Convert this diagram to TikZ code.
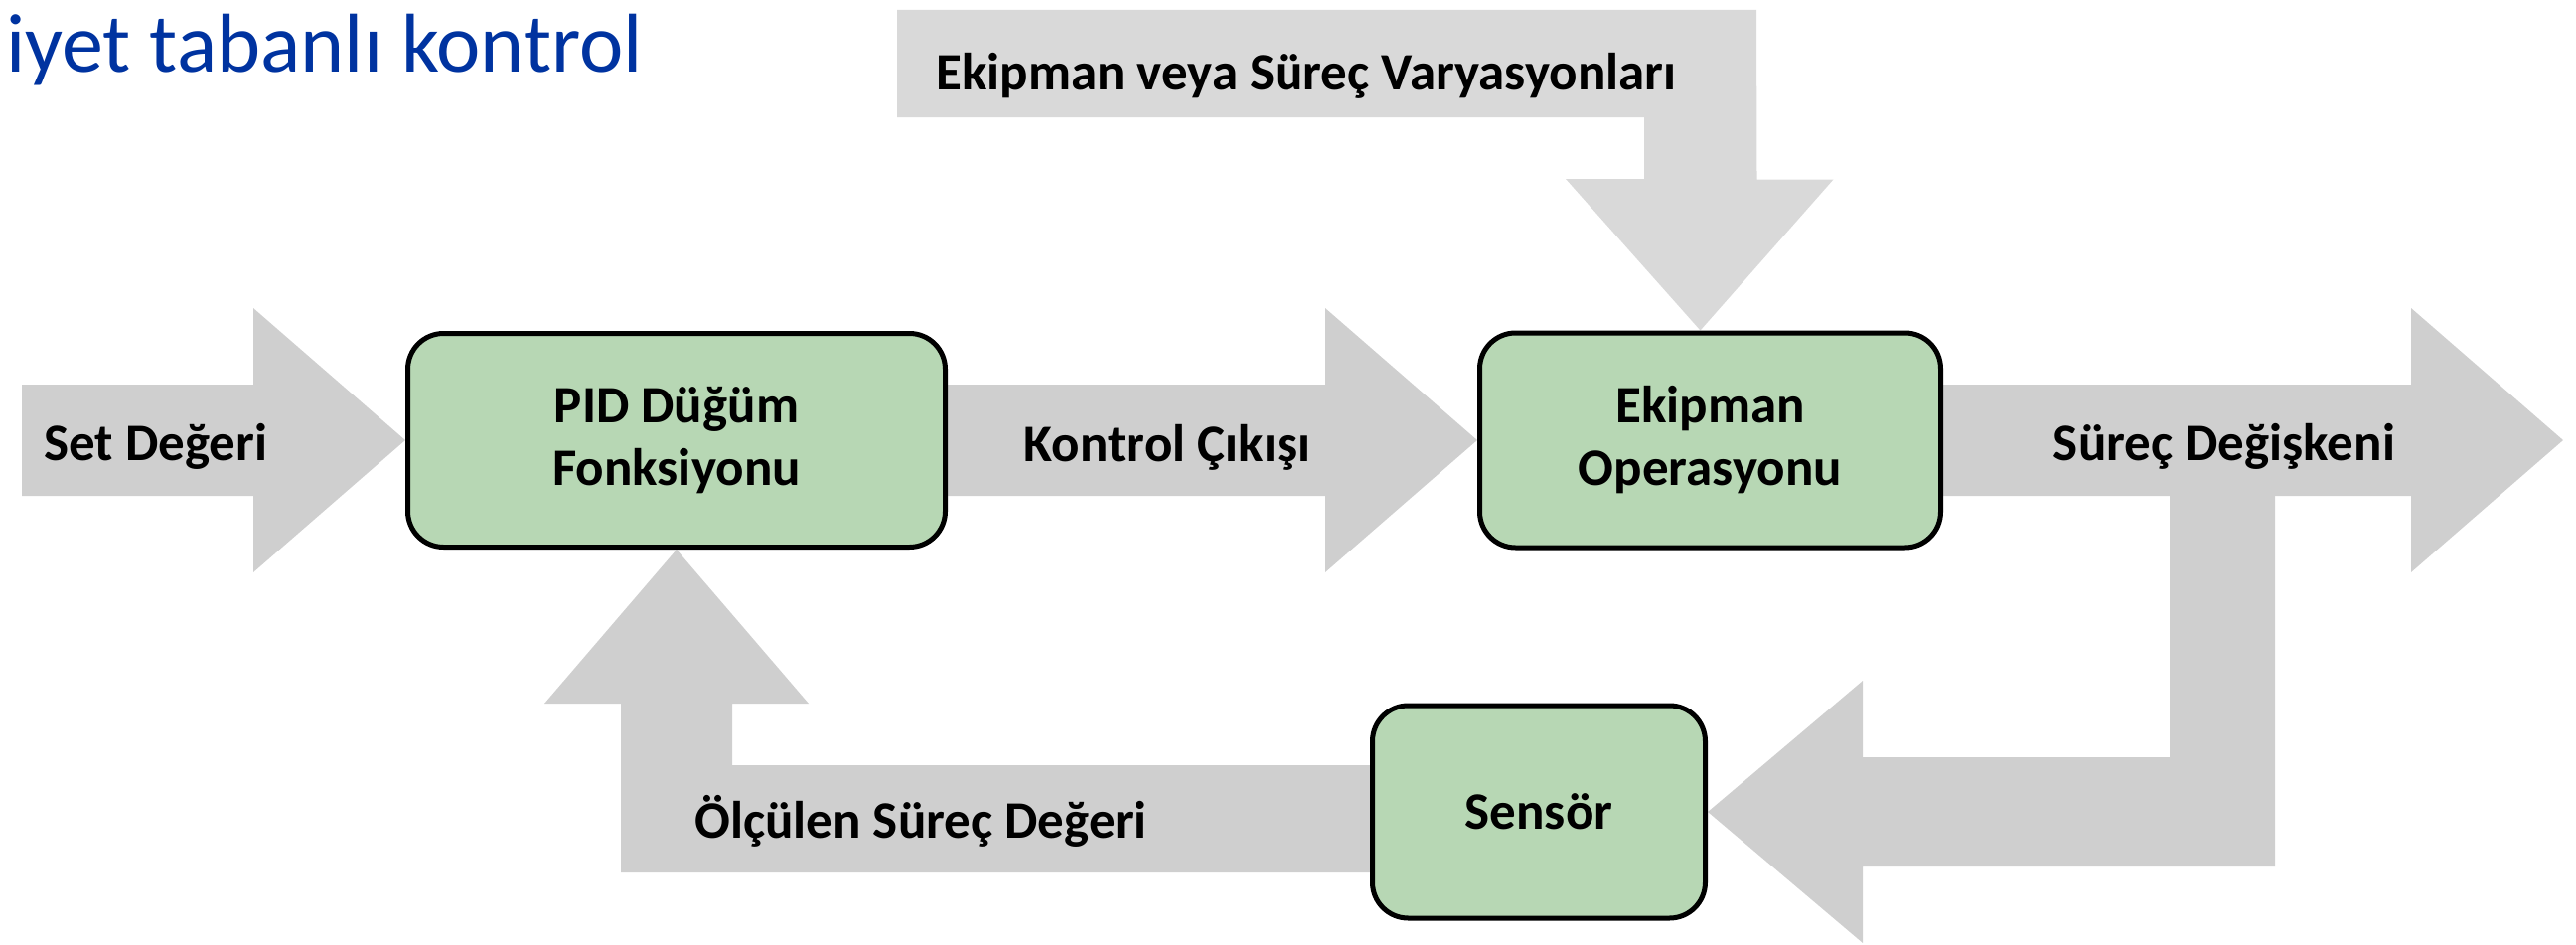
\documentclass[tikz,border=0pt]{standalone}
\usepackage{fontspec}
\setmainfont{Carlito}
\usetikzlibrary{positioning, calc, backgrounds}
\definecolor{boxgreen}{HTML}{B7D7B4}
\definecolor{flowgray}{HTML}{CFCFCF}
\definecolor{noisegray}{HTML}{D9D9D9}
\definecolor{titleblue}{HTML}{0033A0}

\begin{document}
\begin{tikzpicture}[
  x=1pt, y=-1pt,
  block/.style={rectangle, draw=black, line width=5pt, fill=boxgreen, rounded corners=36pt, align=center, font=\fontsize{53}{63}\selectfont\bfseries},
  flowtext/.style={inner sep=0pt, anchor=base, font=\fontsize{53}{63}\selectfont\bfseries},
  flow/.style={fill=flowgray},
  noise/.style={fill=noisegray}
]
  \useasboundingbox (0,0) rectangle (2593,950);

  % Heading
  \node[anchor=base west, inner sep=0pt, text=titleblue, font=\fontsize{84}{96}\selectfont] (title) at (6,72) {iyet tabanlı kontrol};

  % Blocks
  \node[block, minimum width=541pt, minimum height=215pt] (pid) at (681,443) {PID Düğüm\\Fonksiyonu};
  \node[block, minimum width=464pt, minimum height=216pt, right=533pt of pid] (equip) {Ekipman\\Operasyonu};
  \node[block, minimum width=335pt, minimum height=214pt] (sensor) at (1549,817) {Sensör};

  % Arrow labels
  \node[flowtext] (setval) at (157,463) {Set Değeri};
  \node[flowtext] (ctrlout) at (1175,464) {Kontrol Çıkışı};
  \node[flowtext] (procvar) at (2239,463) {Süreç Değişkeni};
  \node[flowtext] (measured) at (927,843) {Ölçülen Süreç Değeri};
  \node[flowtext] (variation) at (1315,90) {Ekipman veya Süreç Varyasyonları};

  \coordinate (out) at (2580,443);

  \begin{scope}[on background layer]
    % Set value in
    \fill[flow] (pid.west) -- ++(-153,-133) -- ++(0,77) -- (22,387) -- (22,499) -- ++(233,0) -- ++(0,77) -- cycle;
    % Controller output
    \fill[flow] ($(pid.center)+(0,-56)$) -- ($(equip.west)+(-153,-56)$) -- ++(0,-77) -- (equip.west) -- ++(-153,133) -- ++(0,-77) -- ($(pid.center)+(0,56)$) -- cycle;
    % Process variable out
    \fill[flow] ($(equip.center)+(0,-56)$) -- ($(out)+(-153,-56)$) -- ++(0,-77) -- (out) -- ++(-153,133) -- ++(0,-77) -- ($(equip.center)+(0,56)$) -- cycle;
    % Branch down to the sensor
    \fill[flow] (sensor.east) -- ++(156,-132) -- ++(0,77) -- (2184,762) -- (2184,490) -- (2290,490) -- (2290,872) -- (1875,872) -- ++(0,77) -- cycle;
    % Measured value back to PID
    \fill[flow] (pid.south) -- ++(133,155) -- ++(-77,0) -- (737,770) -- ($(sensor.center)+(0,-47)$) -- ($(sensor.center)+(0,61)$) -- (625,878) -- (625,708) -- ++(-77,0) -- cycle;
    % Disturbances from above
    \fill[noise] ($(equip.north)+(-10,0)$) -- ++(134,-152) -- ++(-77,0) -- (1768,10) -- (903,10) -- (903,118) -- (1655,118) -- ++(0,62) -- ++(-79,0) -- cycle;
  \end{scope}
\end{tikzpicture}
\end{document}
